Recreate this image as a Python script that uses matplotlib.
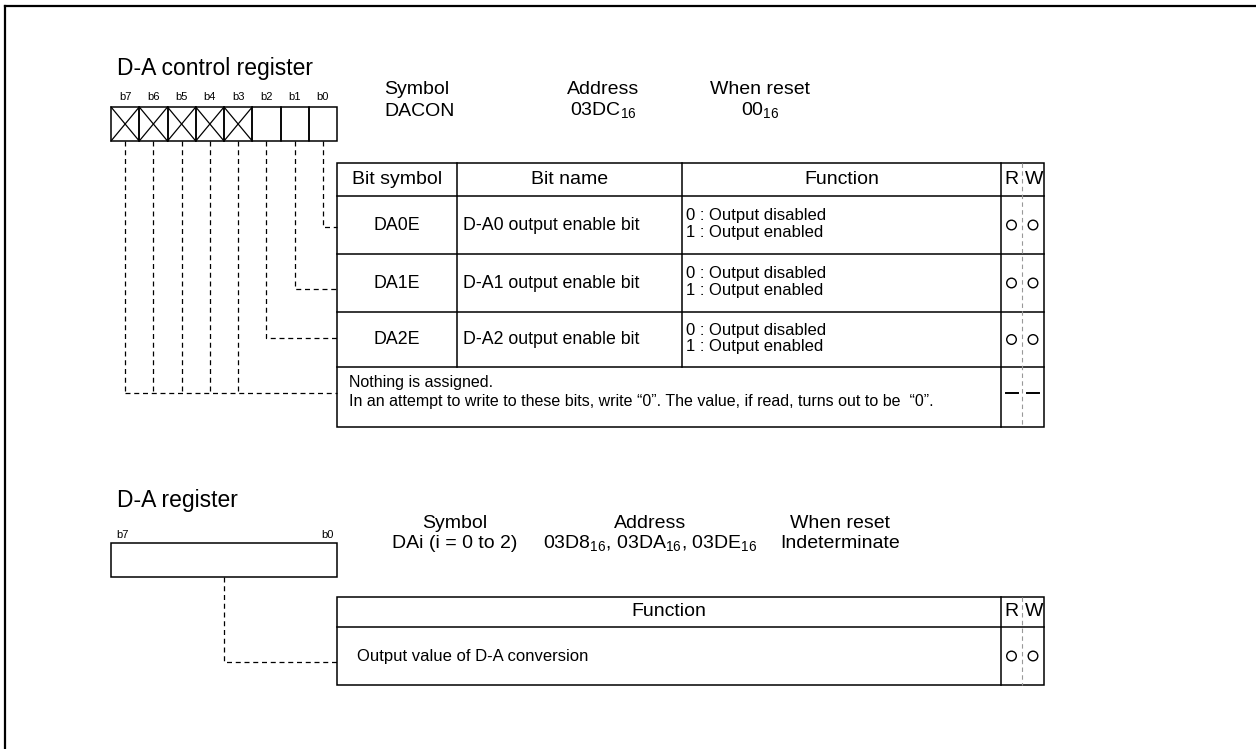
import matplotlib
matplotlib.use("Agg")
import matplotlib.pyplot as plt
from matplotlib.patches import Rectangle, Circle

plt.rcParams['font.family'] = ['Liberation Sans', 'DejaVu Sans']
plt.rcParams['mathtext.fontset'] = 'custom'
plt.rcParams['mathtext.rm'] = 'Liberation Sans'

# register 1: D-A control register
bit_labels = ["b7", "b6", "b5", "b4", "b3", "b2", "b1", "b0"]
unused_bits = [7, 6, 5, 4, 3]
headers = ["Bit symbol", "Bit name", "Function", "R", "W"]
bit_symbols = ["DA0E", "DA1E", "DA2E"]
bit_names = ["D-A0 output enable bit", "D-A1 output enable bit", "D-A2 output enable bit"]
functions = ["0 : Output disabled\n1 : Output enabled"] * 3
rw_marks = ["oo", "oo", "oo", "--"]
nothing_text = ("Nothing is assigned.\n"
                "In an attempt to write to these bits, write \u201c0\u201d. "
                "The value, if read, turns out to be  \u201c0\u201d.")
reg1_info = [("Symbol", "DACON"), ("Address", r"03DC$_{16}$"), ("When reset", r"00$_{16}$")]

# register 2: D-A register
reg2_info = [("Symbol", "DAi (i = 0 to 2)"),
             ("Address", r"03D8$_{16}$, 03DA$_{16}$, 03DE$_{16}$"),
             ("When reset", "Indeterminate")]
reg2_function = "Output value of D-A conversion"
reg2_rw = "oo"

fig = plt.figure(figsize=(12.56, 7.49), dpi=100)
ax = fig.add_axes([0, 0, 1, 1])
ax.set_xlim(0, 1256)
ax.set_ylim(749, 0)
ax.axis('off')

LW = 1.1
dash = dict(color='black', lw=0.9, linestyle=(0, (4, 3)))
F_TITLE = 16.5
F_INFO = 14
F_HEAD = 14
F_CELL = 12.8
F_FUNC = 12
F_NOTE = 11.5
F_BIT = 8

# outer frame (top and left only are visible)
ax.plot([5, 1256], [6, 6], color='black', lw=1.6)
ax.plot([5, 5], [6, 749], color='black', lw=1.6)

def rw_cells(y0, y1, marks):
    yc = (y0 + y1) / 2
    for x, m in zip([1011.5, 1033], marks):
        if m == 'o':
            ax.add_patch(Circle((x, yc), 4.8, fill=False, lw=1.0, ec='black'))
        else:
            ax.plot([x - 6, x + 6], [yc, yc], color='black', lw=1.4)

# ---------- D-A control register ----------
ax.text(117, 68, "D-A control register", fontsize=F_TITLE, va='center', ha='left')
bx0, bx1, by0, by1 = 111, 337, 107, 141
cw = (bx1 - bx0) / 8
for i, lab in enumerate(bit_labels):
    x0 = bx0 + i * cw
    ax.text(x0 + cw / 2, 97, lab, fontsize=F_BIT, ha='center', va='center')
    ax.add_patch(Rectangle((x0, by0), cw, by1 - by0, fill=False, ec='black', lw=LW))
    if 7 - i in unused_bits:
        ax.plot([x0, x0 + cw], [by0, by1], color='black', lw=0.9)
        ax.plot([x0, x0 + cw], [by1, by0], color='black', lw=0.9)

x_sym = 384
ax.text(x_sym, 90, reg1_info[0][0], fontsize=F_INFO, ha='left', va='center')
ax.text(x_sym, 111, reg1_info[0][1], fontsize=F_INFO, ha='left', va='center')
for xc, (a, b) in zip([603, 760], reg1_info[1:]):
    ax.text(xc, 90, a, fontsize=F_INFO, ha='center', va='center')
    ax.text(xc, 111, b, fontsize=F_INFO, ha='center', va='center')

# table
tx = [337, 457, 682, 1001, 1022, 1044]
ty = [163, 196, 254, 312, 367, 427]
ax.add_patch(Rectangle((tx[0], ty[0]), tx[-1] - tx[0], ty[-1] - ty[0], fill=False, ec='black', lw=LW))
for y in ty[1:-1]:
    ax.plot([tx[0], tx[-1]], [y, y], color='black', lw=LW)
for x in tx[1:3]:
    ax.plot([x, x], [ty[0], ty[4]], color='black', lw=LW)
ax.plot([tx[3], tx[3]], [ty[0], ty[-1]], color='black', lw=LW)
ax.plot([tx[4], tx[4]], [ty[0], ty[-1]], color='#999999', lw=0.8, linestyle=(0, (4, 3)))

hx = [(tx[0] + tx[1]) / 2, (tx[1] + tx[2]) / 2, (tx[2] + tx[3]) / 2, 1011.5, 1034]
for x, h in zip(hx, headers):
    ax.text(x, 180, h, fontsize=F_HEAD, ha='center', va='center')

for k in range(3):
    yc = (ty[k + 1] + ty[k + 2]) / 2
    ax.text(hx[0], yc, bit_symbols[k], fontsize=F_CELL, ha='center', va='center')
    ax.text(463, yc, bit_names[k], fontsize=F_CELL, ha='left', va='center')
    ax.text(686, yc - 1, functions[k], fontsize=F_FUNC, ha='left', va='center', linespacing=1.15)
    rw_cells(ty[k + 1], ty[k + 2], rw_marks[k])
ax.text(349, 392, nothing_text, fontsize=F_NOTE, ha='left', va='center', linespacing=1.3)
rw_cells(ty[4], ty[5] - 8, rw_marks[3])

# dashed leaders from bits to rows
bit_x = [bx0 + (i + 0.5) * cw for i in range(8)]
lead_y = {0: 227, 1: 289, 2: 338}
for b, y in lead_y.items():
    x = bit_x[7 - b]
    ax.plot([x, x, tx[0]], [by1, y, y], **dash)
for b in unused_bits:
    x = bit_x[7 - b]
    ax.plot([x, x], [by1, 393], **dash)
ax.plot([bit_x[0], tx[0]], [393, 393], **dash)

# ---------- D-A register ----------
ax.text(117, 501, "D-A register", fontsize=F_TITLE, va='center', ha='left')
rx0, rx1, ry0, ry1 = 111, 337, 543, 577
ax.text(116, 535, bit_labels[0], fontsize=F_BIT, ha='left', va='center')
ax.text(334, 535, bit_labels[-1], fontsize=F_BIT, ha='right', va='center')
ax.add_patch(Rectangle((rx0, ry0), rx1 - rx0, ry1 - ry0, fill=False, ec='black', lw=LW))

for xc, (a, b) in zip([455, 650, 840], reg2_info):
    ax.text(xc, 523, a, fontsize=F_INFO, ha='center', va='center')
    ax.text(xc, 544, b, fontsize=F_INFO, ha='center', va='center')

t2y = [597, 627, 685]
ax.add_patch(Rectangle((tx[0], t2y[0]), tx[-1] - tx[0], t2y[-1] - t2y[0], fill=False, ec='black', lw=LW))
ax.plot([tx[0], tx[-1]], [t2y[1], t2y[1]], color='black', lw=LW)
ax.plot([tx[3], tx[3]], [t2y[0], t2y[-1]], color='black', lw=LW)
ax.plot([tx[4], tx[4]], [t2y[0], t2y[-1]], color='#999999', lw=0.8, linestyle=(0, (4, 3)))
ax.text((tx[0] + tx[3]) / 2, 612, headers[2], fontsize=F_HEAD, ha='center', va='center')
ax.text(1011.5, 612, headers[3], fontsize=F_HEAD, ha='center', va='center')
ax.text(1034, 612, headers[4], fontsize=F_HEAD, ha='center', va='center')
ax.text(357, 656, reg2_function, fontsize=F_FUNC, ha='left', va='center')
rw_cells(t2y[1], t2y[2], reg2_rw)

xm = (rx0 + rx1) / 2
ax.plot([xm, xm, tx[0]], [ry1, 662, 662], **dash)

fig.savefig("out.png", dpi=100)
